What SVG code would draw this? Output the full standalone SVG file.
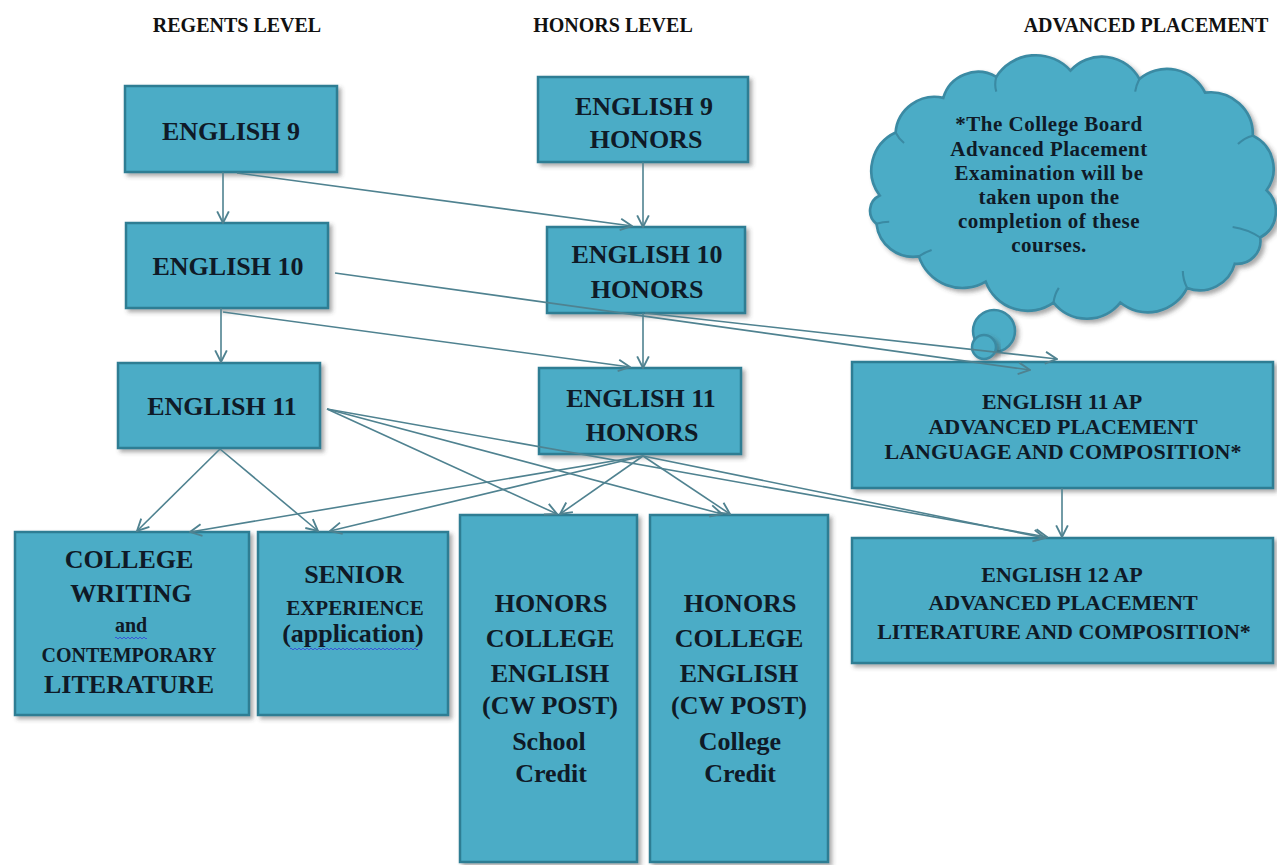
<svg xmlns="http://www.w3.org/2000/svg" width="1277" height="865" viewBox="0 0 1277 865">
<style>
.box{fill:#4bacc6;stroke:#2f7d93;stroke-width:2.5;filter:url(#sh)}
.t{font-family:"Liberation Serif","Times New Roman",serif;font-weight:bold;fill:#0f1a27;text-anchor:middle}
.b{font-size:26px}
.ap{font-size:22px}
.s20{font-size:20px}
.hd{font-size:20px;fill:#111}
.cl{font-size:21px;letter-spacing:0.5px}
.cn{fill:none;stroke:#4f8290;stroke-width:1.6;marker-end:url(#ah)}
.sq{fill:none;stroke:#3a55d8;stroke-width:1}
</style>
<defs>
<filter id="sh" x="-10%" y="-10%" width="130%" height="130%">
<feDropShadow dx="3" dy="3" stdDeviation="2" flood-color="#404040" flood-opacity="0.45"/>
</filter>
<marker id="ah" markerUnits="userSpaceOnUse" markerWidth="14" markerHeight="14" refX="11" refY="6" orient="auto" viewBox="0 0 12 12">
<path d="M1,1 L11,6 L1,11" fill="none" stroke="#4f8290" stroke-width="1.6"/>
</marker>
</defs>
<rect width="1277" height="865" fill="#ffffff"/>

<g id="headers">
<text class="t hd" x="237" y="32">REGENTS LEVEL</text>
<text class="t hd" x="613" y="32">HONORS LEVEL</text>
<text class="t hd" x="1146" y="32">ADVANCED PLACEMENT</text>
</g>

<g id="cloud">
<path class="box" style="stroke:#3a8aa3" transform="translate(1062,185) scale(1.06,1.05) translate(-1065,-185)" d="M893,195 A40,40 0 0 1 908,135 A37,37 0 0 1 953,102 A34,34 0 0 1 1003,82 A44,44 0 0 1 1073,76 A40,40 0 0 1 1138,84 A40,40 0 0 1 1200,97 A40,40 0 0 1 1245,138 A35,35 0 0 1 1258,190 A28,28 0 0 1 1252,235 A22,22 0 0 1 1228,260 A34,34 0 0 1 1183,283 A41,41 0 0 1 1120,297 A40,40 0 0 1 1057,297 A42,42 0 0 1 993,277 A43,43 0 0 1 930,253 A35,35 0 0 1 890,222 A16,16 0 0 1 893,195 Z"/>
<path transform="translate(1062,185) scale(1.06,1.05) translate(-1065,-185)" d="M908,135 q3,6 8,10 M1003,82 q-2,8 0,14 M1138,84 q-3,6 -4,12 M1245,138 q-8,2 -14,8 M1252,235 q-12,-8 -26,-10 M1183,283 q-4,-8 -4,-16 M1057,297 q1,-8 5,-14 M930,253 q6,-4 12,-6 M890,222 q6,-2 12,-2" fill="none" stroke="#3a8aa3" stroke-width="2"/>
<circle cx="994" cy="331" r="21" class="box" style="stroke:#3a8aa3"/>
<circle cx="984" cy="347" r="12" class="box" style="stroke:#3a8aa3"/>
<text class="t cl" x="1049" y="131">*The College Board</text>
<text class="t cl" x="1049" y="156">Advanced Placement</text>
<text class="t cl" x="1049" y="180">Examination will be</text>
<text class="t cl" x="1049" y="204">taken upon the</text>
<text class="t cl" x="1049" y="228">completion of these</text>
<text class="t cl" x="1049" y="252">courses.</text>
</g>

<g id="english9">
<rect class="box" x="125" y="86" width="212" height="86"/>
<text class="t b" x="231" y="140">ENGLISH 9</text>
</g>
<g id="english9honors">
<rect class="box" x="538" y="77" width="210" height="85"/>
<text class="t b" x="644" y="115">ENGLISH 9</text>
<text class="t b" x="646" y="148">HONORS</text>
</g>
<g id="english10">
<rect class="box" x="126" y="223" width="202" height="85"/>
<text class="t b" x="228" y="275">ENGLISH 10</text>
</g>
<g id="english10honors">
<rect class="box" x="547" y="227" width="198" height="86"/>
<text class="t b" x="647" y="263">ENGLISH 10</text>
<text class="t b" x="647" y="298">HONORS</text>
</g>
<g id="english11">
<rect class="box" x="118" y="363" width="202" height="85"/>
<text class="t b" x="222" y="415">ENGLISH 11</text>
</g>
<g id="english11honors">
<rect class="box" x="539" y="368" width="202" height="86"/>
<text class="t b" x="641" y="407">ENGLISH 11</text>
<text class="t b" x="642" y="441">HONORS</text>
</g>
<g id="english11ap">
<rect class="box" x="852" y="362" width="421" height="126"/>
<text class="t ap" x="1062" y="409">ENGLISH 11 AP</text>
<text class="t ap" x="1063" y="434">ADVANCED PLACEMENT</text>
<text class="t ap" x="1063" y="459">LANGUAGE AND COMPOSITION*</text>
</g>
<g id="english12ap">
<rect class="box" x="852" y="538" width="421" height="125"/>
<text class="t ap" x="1062" y="582">ENGLISH 12 AP</text>
<text class="t ap" x="1063" y="610">ADVANCED PLACEMENT</text>
<text class="t ap" x="1064" y="639">LITERATURE AND COMPOSITION*</text>
</g>
<g id="collegewriting">
<rect class="box" x="15" y="532" width="234" height="183"/>
<text class="t b" x="129" y="568">COLLEGE</text>
<text class="t b" x="131" y="602">WRITING</text>
<text class="t s20" x="131" y="632">and</text>
<path class="sq" d="M115,638 q1,-2 2,0 t2,0 t2,0 t2,0 t2,0 t2,0 t2,0 t2,0 t2,0 t2,0 t2,0 t2,0 t2,0 t2,0 t2,0 t2,0"/>
<text class="t s20" x="129" y="662">CONTEMPORARY</text>
<text class="t b" x="129" y="693">LITERATURE</text>
</g>
<g id="seniorexperience">
<rect class="box" x="258" y="532" width="190" height="183"/>
<text class="t b" x="354" y="583">SENIOR</text>
<text class="t" style="font-size:21px" x="355" y="615">EXPERIENCE</text>
<text class="t b" x="353" y="642">(application)</text>
<path class="sq" d="M290,649 q1,-2 2,0 t2,0 t2,0 t2,0 t2,0 t2,0 t2,0 t2,0 t2,0 t2,0 t2,0 t2,0 t2,0 t2,0 t2,0 t2,0 t2,0 t2,0 t2,0 t2,0 t2,0 t2,0 t2,0 t2,0 t2,0 t2,0 t2,0 t2,0 t2,0 t2,0 t2,0 t2,0 t2,0 t2,0 t2,0 t2,0 t2,0 t2,0 t2,0 t2,0 t2,0 t2,0 t2,0 t2,0 t2,0 t2,0 t2,0 t2,0 t2,0 t2,0 t2,0 t2,0 t2,0 t2,0 t2,0 t2,0 t2,0 t2,0 t2,0 t2,0 t2,0 t2,0 t2,0 t2,0"/>
</g>
<g id="honorsschool">
<rect class="box" x="460" y="515" width="177" height="347"/>
<text class="t b" x="551" y="612">HONORS</text>
<text class="t b" x="550" y="647">COLLEGE</text>
<text class="t b" x="550" y="682">ENGLISH</text>
<text class="t b" x="550" y="714">(CW POST)</text>
<text class="t b" x="549" y="750">School</text>
<text class="t b" x="551" y="782">Credit</text>
</g>
<g id="honorscollege">
<rect class="box" x="650" y="515" width="178" height="347"/>
<text class="t b" x="740" y="612">HONORS</text>
<text class="t b" x="739" y="647">COLLEGE</text>
<text class="t b" x="739" y="682">ENGLISH</text>
<text class="t b" x="739" y="714">(CW POST)</text>
<text class="t b" x="740" y="750">College</text>
<text class="t b" x="740" y="782">Credit</text>
</g>

<g id="connectors">
<line class="cn" x1="223" y1="172" x2="223" y2="223"/>
<line class="cn" x1="237" y1="173" x2="632" y2="226"/>
<line class="cn" x1="643" y1="162" x2="643" y2="227"/>
<line class="cn" x1="335" y1="273" x2="1030" y2="370"/>
<line class="cn" x1="645" y1="313" x2="1057" y2="359"/>
<line class="cn" x1="221" y1="308" x2="221" y2="362"/>
<line class="cn" x1="223" y1="312" x2="630" y2="367"/>
<line class="cn" x1="643" y1="313" x2="643" y2="368"/>
<line class="cn" x1="220" y1="449" x2="137" y2="531"/>
<line class="cn" x1="220" y1="449" x2="318" y2="531"/>
<line class="cn" x1="327" y1="409" x2="557" y2="514"/>
<line class="cn" x1="327" y1="409" x2="722" y2="514"/>
<line class="cn" x1="327" y1="409" x2="1047" y2="537"/>
<line class="cn" x1="643" y1="456" x2="190" y2="532"/>
<line class="cn" x1="643" y1="456" x2="330" y2="531"/>
<line class="cn" x1="643" y1="456" x2="560" y2="514"/>
<line class="cn" x1="643" y1="456" x2="730" y2="514"/>
<line class="cn" x1="643" y1="456" x2="1045" y2="538"/>
<line class="cn" x1="1062" y1="488" x2="1062" y2="537"/>
</g>
</svg>
